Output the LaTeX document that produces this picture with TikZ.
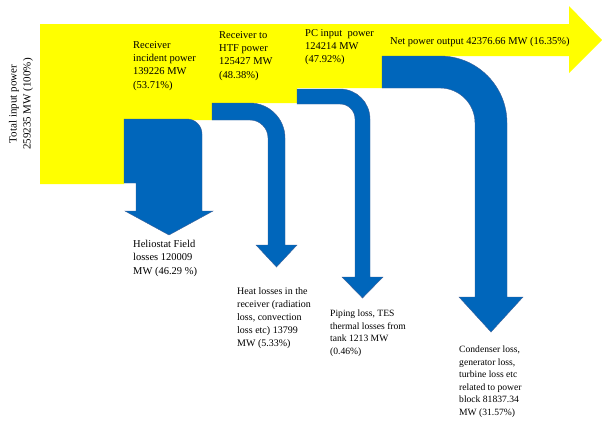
\documentclass[tikz,border=0pt]{standalone}
\usepackage{fontspec}
\setmainfont{Liberation Serif}
\definecolor{flowyellow}{RGB}{255,255,0}
\definecolor{flowblue}{RGB}{0,102,187}
\definecolor{flowedge}{RGB}{60,95,150}
\begin{document}
\begin{tikzpicture}[x=1pt,y=-1pt,
  lbl/.style={anchor=north west, inner sep=0pt, align=left, font=\fontsize{10.5}{13.3}\selectfont},
  lblmid/.style={anchor=north west, inner sep=0pt, align=left, font=\fontsize{10}{13.2}\selectfont},
  lblsmall/.style={anchor=north west, inner sep=0pt, align=left, font=\fontsize{9.6}{12.5}\selectfont},
  yellowflow/.style={fill=flowyellow, draw=none},
  bluearrow/.style={fill=flowblue, draw=flowedge, line width=0.4pt, line join=miter}]
\useasboundingbox (0,0) rectangle (602,421);

% main yellow flow
\fill[yellowflow] (40,24) -- (569,24) -- (569,6) -- (602,40) -- (569,73) -- (569,56)
  -- (382,56) -- (382,88) -- (297,88) -- (297,103) -- (212,103) -- (212,120)
  -- (124,120) -- (124,184) -- (40,184) -- cycle;

% heliostat field losses
\path[bluearrow] (124,119) -- (187,119) .. controls (195.3,119) and (202,125.7) .. (202,134)
  -- (202,211) -- (213,211) -- (169,235) -- (125,211) -- (136,211) -- (136,183) -- (124,183) -- cycle;

% receiver heat losses
\path[bluearrow] (212,103) -- (250,103) .. controls (269.3,103) and (285,118.7) .. (285,138)
  -- (285,245) -- (297,245) -- (276.5,267) -- (256,245) -- (268,245)
  -- (268,138) .. controls (268,128.1) and (259.9,120) .. (250,120) -- (212,120) -- cycle;

% piping / TES losses
\path[bluearrow] (297,89) -- (340,89) .. controls (356.6,89) and (370,102.4) .. (370,119)
  -- (370,277) -- (383,277) -- (362.5,298) -- (342,277) -- (355,277)
  -- (355,119) .. controls (355,110.7) and (348.3,104) .. (340,104) -- (297,104) -- cycle;

% power block losses
\path[bluearrow] (382,56) -- (440,56) .. controls (477,56) and (507,86) .. (507,123)
  -- (507,297) -- (523,297) -- (491,332) -- (459,297) -- (475,297)
  -- (475,123) .. controls (475,103.7) and (459.3,88) .. (440,88) -- (382,88) -- cycle;

% labels
\node[rotate=90, inner sep=0pt, align=center, font=\fontsize{11}{14}\selectfont] (total) at (21,104)
  {Total input power\\259235 MW (100\%)};
\node[lbl] (incident) at (133,41) {Receiver\\incident power\\139226 MW\\(53.71\%)};
\node[lbl] (htf) at (219,31) {Receiver to\\HTF power\\125427 MW\\(48.38\%)};
\node[lbl] (pcin) at (305,29) {PC input\ \ power\\124214 MW\\(47.92\%)};
\node[lbl] (net) at (390,37) {Net power output 42376.66 MW (16.35\%)};
\node[lbl] (helio) at (133,240) {Heliostat Field\\losses 120009\\MW (46.29 \%)};
\node[lblmid] (heat) at (237,287) {Heat losses in the\\receiver (radiation\\loss, convection\\loss etc) 13799\\MW (5.33\%)};
\node[lblsmall] (piping) at (330,310) {Piping loss, TES\\thermal losses from\\tank 1213 MW\\(0.46\%)};
\node[lblsmall] (cond) at (459,346) {Condenser loss,\\generator loss,\\turbine loss etc\\related to power\\block 81837.34\\MW (31.57\%)};
\end{tikzpicture}
\end{document}
